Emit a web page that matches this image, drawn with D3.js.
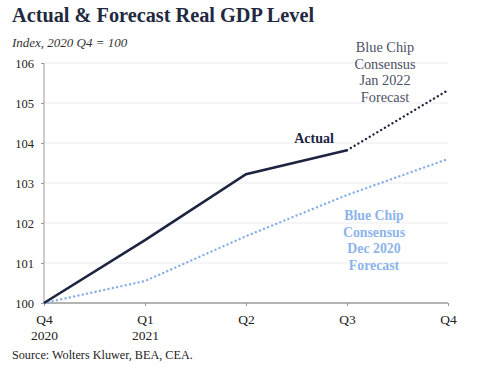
<!DOCTYPE html>
<html><head><meta charset="utf-8">
<script src="https://cdn.jsdelivr.net/npm/d3@7"></script>
<style>body{margin:0;background:#fff;}svg{display:block;font-family:"Liberation Serif","Times New Roman",serif;}</style>
</head><body><svg id="c" width="480" height="368"></svg>
<script>
const quarters = ["Q4\n2020","Q1\n2021","Q2","Q3","Q4"];
const actual = [100, 101.57, 103.22, 103.82];
const jan2022Forecast = [null, null, null, 103.82, 105.32];
const dec2020Forecast = [100, 100.55, 101.67, 102.7, 103.6];
const yTicks = [100,101,102,103,104,105,106];

const svg = d3.select("#c");
const x = d3.scalePoint().domain(d3.range(quarters.length)).range([44,448]);
const y = d3.scaleLinear().domain([100,106]).range([303,63]);
const navy = "#1c2440";

svg.append("text").attr("x",12).attr("y",22).attr("font-size",20.3).attr("font-weight","bold").attr("fill","#1f2940").text("Actual & Forecast Real GDP Level");
svg.append("text").attr("x",12).attr("y",47).attr("font-size",13).attr("font-style","italic").attr("fill","#333").text("Index, 2020 Q4 = 100");

// gridlines
svg.append("g").selectAll("line").data(yTicks.slice(1)).join("line")
  .attr("x1",44).attr("x2",448).attr("y1",d=>y(d)).attr("y2",d=>y(d))
  .attr("stroke","#ececec").attr("stroke-width",1);

const ya = svg.append("g").attr("transform","translate(44,0)").call(d3.axisLeft(y).tickValues(yTicks).tickSize(3).tickPadding(7).tickFormat(d3.format("d")));
ya.select(".domain").attr("stroke","#9a9a9a").attr("d","M0,63V303");
ya.selectAll(".tick line").attr("stroke","#9a9a9a");
ya.selectAll("text").attr("font-size",12.5).attr("fill","#222").attr("font-family","Liberation Serif, serif");

const xa = svg.append("g").attr("transform","translate(0,303)").call(d3.axisBottom(x).tickSize(3).tickFormat(""));
xa.select(".domain").attr("stroke","#9a9a9a").attr("stroke-width",1.5).attr("d","M44,0H448");
xa.selectAll(".tick line").attr("stroke","#9a9a9a");
xa.selectAll(".tick").each(function(d){
  const t = d3.select(this).append("text").attr("fill","#222").attr("font-size",13.5).attr("font-family","Liberation Serif, serif").attr("text-anchor","middle");
  quarters[d].split("\n").forEach((s,i)=>t.append("tspan").attr("x",0).attr("y",21+i*16).text(s));
});

const line = d3.line().defined(d=>d!=null).x((d,i)=>x(i)).y(d=>y(d));
svg.append("path").datum(dec2020Forecast).attr("d",line).attr("fill","none").attr("stroke","#86aee6").attr("stroke-width",2.4).attr("stroke-dasharray","0.1,4.3").attr("stroke-linecap","round");
svg.append("path").datum(jan2022Forecast).attr("d",line).attr("fill","none").attr("stroke",navy).attr("stroke-width",2.4).attr("stroke-dasharray","0.1,4.3").attr("stroke-linecap","round");
svg.append("path").datum(actual).attr("d",line).attr("fill","none").attr("stroke",navy).attr("stroke-width",2.6);

function multi(lines,cx,y0,dy,opts){
  const t = svg.append("text").attr("text-anchor","middle").attr("font-size",opts.size).attr("fill",opts.fill).attr("font-weight",opts.weight||"normal");
  lines.forEach((s,i)=>t.append("tspan").attr("x",cx).attr("y",y0+i*dy).text(s));
}
multi(["Blue Chip","Consensus","Jan 2022","Forecast"],385,52,16.5,{size:14.3,fill:"#4d5266"});
multi(["Actual"],314,143,0,{size:14,fill:navy,weight:"bold"});
multi(["Blue Chip","Consensus","Dec 2020","Forecast"],374,220,16.7,{size:13.8,fill:"#8db4ea",weight:"bold"});

svg.append("text").attr("x",12).attr("y",359).attr("font-size",12.2).attr("fill","#222").text("Source: Wolters Kluwer, BEA, CEA.");
</script></body></html>
